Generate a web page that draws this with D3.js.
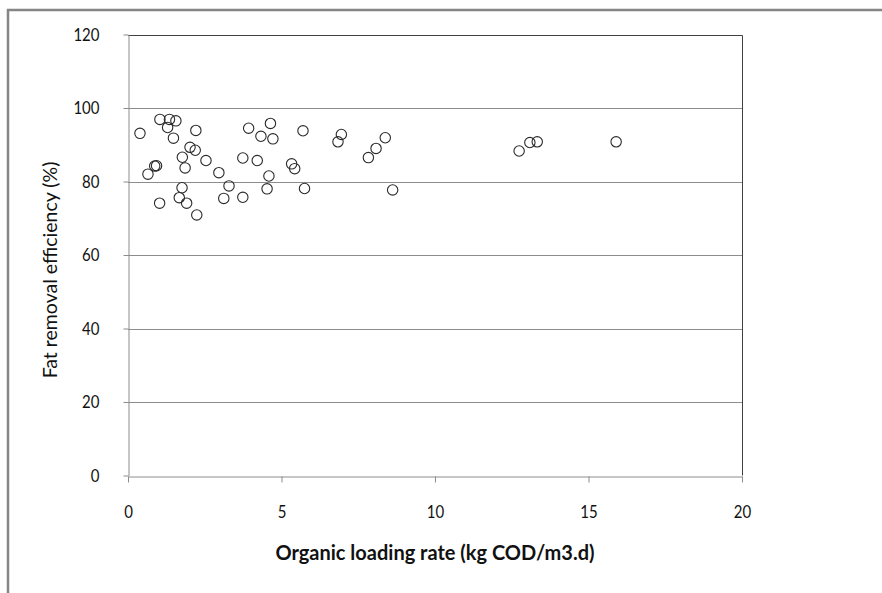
<!DOCTYPE html>
<meta charset="utf-8">
<style>
  body { margin: 0; background: #fff; }
  svg text { font-family: Lato, "Open Sans", sans-serif; fill: #111; }
  svg .tick text { transform-box: fill-box; transform-origin: center; transform: scaleY(1.2); }
</style>
<div id="chart"></div>
<script src="https://d3js.org/d3.v7.min.js"></script>
<script>
// organic loading rate (kg COD/m3.d) and fat removal efficiency (%)
const olr = [0.39, 1.04, 1.35, 1.56, 1.29, 1.48, 2.21, 2.02, 2.19, 1.77, 2.54, 0.93, 0.87, 0.65, 1.86, 2.96,
             3.74, 4.21, 3.93, 4.33, 4.64, 4.72, 5.70, 5.33, 5.43, 4.59, 4.53, 5.75, 1.76, 1.03, 1.67, 1.91,
             2.24, 3.29, 3.12, 3.74, 6.95, 6.84, 8.38, 8.08, 7.83, 8.62, 12.74, 13.09, 13.33, 15.90];
const efficiency = [93.1, 96.9, 96.9, 96.5, 94.7, 91.8, 93.9, 89.3, 88.5, 86.6, 85.7, 84.3, 84.2, 82.0, 83.7, 82.4,
                    86.4, 85.7, 94.5, 92.3, 95.8, 91.6, 93.8, 84.8, 83.5, 81.5, 78.0, 78.1, 78.3, 74.1, 75.6, 74.1,
                    70.9, 78.8, 75.4, 75.7, 92.8, 90.8, 91.9, 89.0, 86.5, 77.7, 88.3, 90.6, 90.8, 90.8];
const xTicks = [0, 5, 10, 15, 20];
const yTicks = [0, 20, 40, 60, 80, 100, 120];

const width = 882, height = 593;
const margin = {top: 34.5, right: 140, bottom: 117.5, left: 128};

const svg = d3.select("#chart").append("svg")
    .attr("width", width)
    .attr("height", height);

// outer frame (top and left edges only show)
svg.append("path")
    .attr("d", `M8,${height + 2}V10H${width + 2}`)
    .attr("fill", "none")
    .attr("stroke", "#858585")
    .attr("stroke-width", 2.5);

const x = d3.scaleLinear().domain([0, 20]).range([margin.left, width - margin.right]);
const y = d3.scaleLinear().domain([0, 120]).range([height - margin.bottom, margin.top]);

// gridlines
svg.append("g")
  .selectAll("line")
  .data(yTicks.filter(d => d > 0 && d < 120))
  .join("line")
    .attr("x1", x(0)).attr("x2", x(20))
    .attr("y1", d => Math.round(y(d)) + 0.5).attr("y2", d => Math.round(y(d)) + 0.5)
    .attr("stroke", "#8c8c8c");

// plot area border top/right
svg.append("path")
    .attr("d", `M${x(0)},${Math.round(y(120)) + 0.5}H${Math.round(x(20)) + 0.5}V${y(0)}`)
    .attr("fill", "none")
    .attr("stroke", "#404040");

const xAxis = svg.append("g")
    .attr("transform", `translate(0,${Math.round(y(0)) + 0.5})`)
    .call(d3.axisBottom(x).tickValues(xTicks).tickSize(6).tickPadding(24).tickSizeOuter(0));

const yAxis = svg.append("g")
    .attr("transform", `translate(${Math.round(x(0)) + 0.5},0)`)
    .call(d3.axisLeft(y).tickValues(yTicks).tickSize(5).tickPadding(24).tickSizeOuter(0));

[xAxis, yAxis].forEach(g => {
  g.select(".domain").attr("stroke", "#8c8c8c");
  g.selectAll(".tick line").attr("stroke", "#8c8c8c");
  g.selectAll(".tick text").style("font-size", "15px").attr("fill", "#111");
});

// points
svg.append("g")
  .selectAll("circle")
  .data(olr.map((d, i) => [d, efficiency[i]]))
  .join("circle")
    .attr("cx", d => x(d[0]))
    .attr("cy", d => y(d[1]))
    .attr("r", 5.2)
    .attr("fill", "none")
    .attr("stroke", "#2a2a2a")
    .attr("stroke-width", 1.1);

// axis titles
svg.append("text")
    .attr("x", (x(0) + x(20)) / 2)
    .attr("y", 560)
    .attr("text-anchor", "middle")
    .style("font-size", "20px")
    .style("font-weight", "bold")
    .text("Organic loading rate (kg COD/m3.d)");

svg.append("text")
    .attr("transform", "translate(57,270) rotate(-90)")
    .attr("text-anchor", "middle")
    .style("font-size", "19.5px")
    .text("Fat removal efficiency (%)");
</script>
